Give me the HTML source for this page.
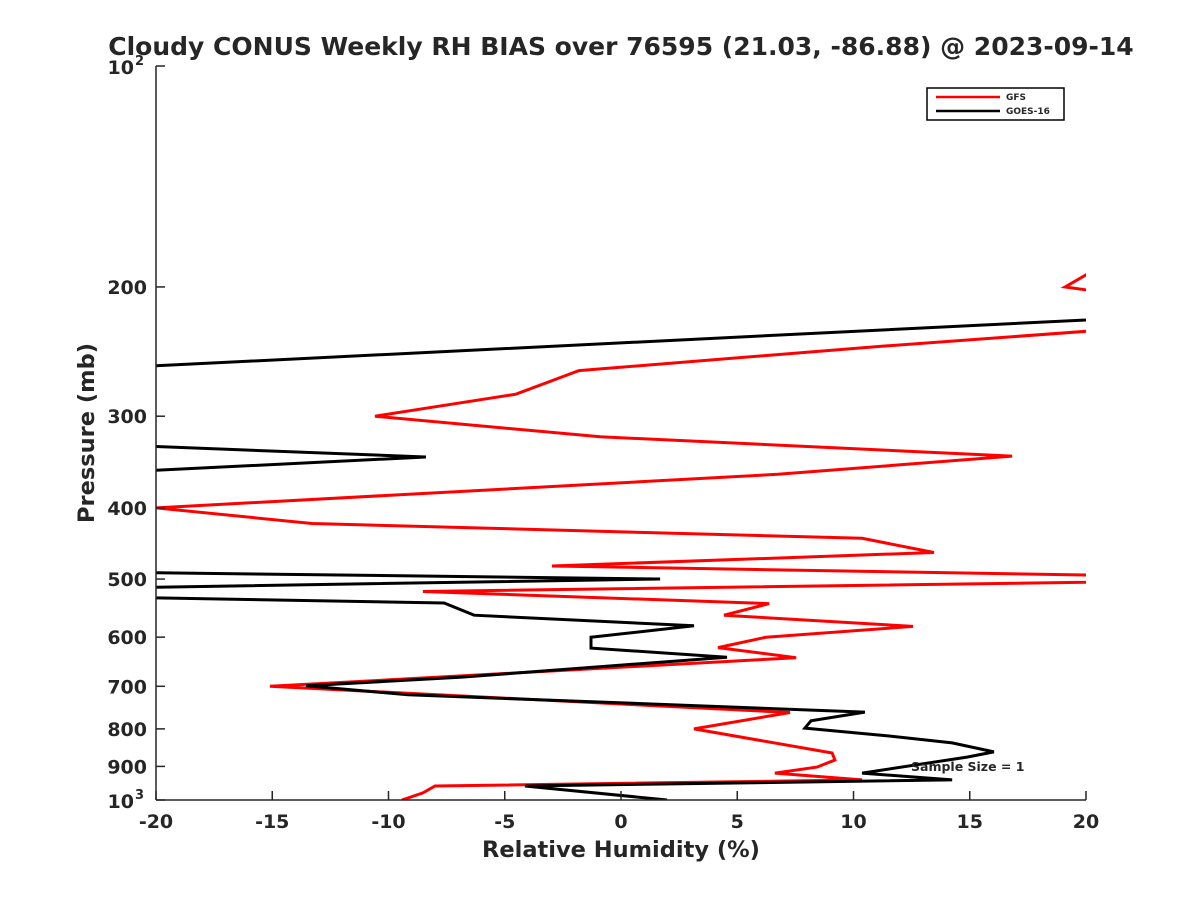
<!DOCTYPE html>
<html><head><meta charset="utf-8"><style>
body{margin:0;background:#fff}
text{font-family:"DejaVu Sans","Liberation Sans",sans-serif;font-weight:bold;fill:#262626}
</style></head><body>
<svg id="c" width="1200" height="900" xmlns="http://www.w3.org/2000/svg">
<rect width="1200" height="900" fill="#fff"/>
<defs><clipPath id="pc"><rect x="156" y="66" width="930" height="734"/></clipPath></defs>
<text x="621" y="55" font-size="25" text-anchor="middle" fill="#000">Cloudy CONUS Weekly RH BIAS over 76595 (21.03, -86.88) @ 2023-09-14</text>
<g id="series" clip-path="url(#pc)"></g>
<g id="axes"></g>
<text transform="translate(94,433) rotate(-90)" font-size="22.5" text-anchor="middle">Pressure (mb)</text>
<text x="621" y="857" font-size="22.5" text-anchor="middle">Relative Humidity (%)</text>
<g>
<rect x="927" y="88" width="137" height="32" fill="#fff" stroke="#000" stroke-width="1.5"/>
<line x1="936" y1="97" x2="1000" y2="97" stroke="#f00" stroke-width="2.5"/>
<text x="1006" y="100" font-size="9" fill="#000">GFS</text>
<line x1="936" y1="111" x2="1000" y2="111" stroke="#000" stroke-width="2.5"/>
<text x="1006" y="114" font-size="9" fill="#000">GOES-16</text>
</g>
<text x="911" y="771" font-size="12.5" fill="#000">Sample Size = 1</text>
</svg>
<script>
const xTicks=[-20,-15,-10,-5,0,5,10,15,20];
const yTicks=[200,300,400,500,600,700,800,900];
const gfsRH=[22,19.1,22,24,11.14,-1.81,-4.52,-10.58,-0.90,16.82,6.75,-20,-13.29,10.37,13.46,-2.97,30,-8.52,6.37,4.43,12.56,6.24,4.17,7.53,-15.1,7.27,3.14,9.08,9.2,8.43,6.62,10.37,-8.0,-8.52,-9.42];
const gfsP=[177,200,206,225,241,260,280,300,320,340,360,400,420,440,460,480,500,520,540,560,580,600,620,640,700,760,800,863,882,902,919,939,957,978,1000];
const goesRH=[30,-22,-22,-8.39,-22,-25,1.68,-25,-25,-7.61,-6.32,3.14,-1.29,-1.29,4.56,-6.84,-13.55,-9.16,10.49,8.17,7.91,11.53,14.24,16.04,14.88,10.37,14.24,-4.13,1.98];
const goesP=[214,258,328,341,358,488,500,516,527,539,560,579,600,621,639,680,699,719,759,780,798,818,836,860,874,919,939,957,1000];
const X0=156,X1=1086,Y0=66,Y1=800;
const xs=v=>X0+(v+20)/40*(X1-X0);
const ys=p=>Y0+(Math.log10(p)-2)*(Y1-Y0);
const NS='http://www.w3.org/2000/svg';
function mk(t,a,par){const e=document.createElementNS(NS,t);for(const k in a)e.setAttribute(k,a[k]);par.appendChild(e);return e;}
const ax=document.getElementById('axes'),sg=document.getElementById('series');
function line(rh,p,col,name){
 const pts=rh.map((v,i)=>xs(v).toFixed(1)+','+ys(p[i]).toFixed(1)).join(' ');
 const pl=mk('polyline',{points:pts,fill:'none',stroke:col,'stroke-width':3,'stroke-linejoin':'miter'},sg);
 
 
}
line(gfsRH,gfsP,'#f00','gfs-line');
line(goesRH,goesP,'#000','goes-line');
const xa=mk('line',{x1:X0,y1:Y1,x2:X1,y2:Y1,stroke:'#262626','stroke-width':1.5},ax);


const ya=mk('line',{x1:X0,y1:Y0,x2:X0,y2:Y1,stroke:'#262626','stroke-width':1.5},ax);


xTicks.forEach(v=>{
 const x=xs(v);
 mk('line',{x1:x,y1:Y1,x2:x,y2:Y1-9,stroke:'#262626','stroke-width':1.5},ax);
 const t=mk('text',{x:x,y:828,'font-size':19,'text-anchor':'middle'},ax);
 t.textContent=String(v);
 
 
});
yTicks.forEach(p=>{
 const y=ys(p);
 mk('line',{x1:X0,y1:y,x2:X0+9,y2:y,stroke:'#262626','stroke-width':1.5},ax);
 const t=mk('text',{x:147,y:y+7,'font-size':19,'text-anchor':'end'},ax);
 t.textContent=String(p);
 
 
});
[[100,'2'],[1000,'3']].forEach(([p,e])=>{
 const y=ys(p);
 mk('line',{x1:X0,y1:y,x2:X0+9,y2:y,stroke:'#262626','stroke-width':1.5},ax);
 const t=mk('text',{x:134,y:y+8,'font-size':19,'text-anchor':'end'},ax);
 t.textContent='10';
 
 
 const s=mk('text',{x:135,y:y-1,'font-size':13},ax);
 s.textContent=e;
 
 
});
</script>
</body></html>
